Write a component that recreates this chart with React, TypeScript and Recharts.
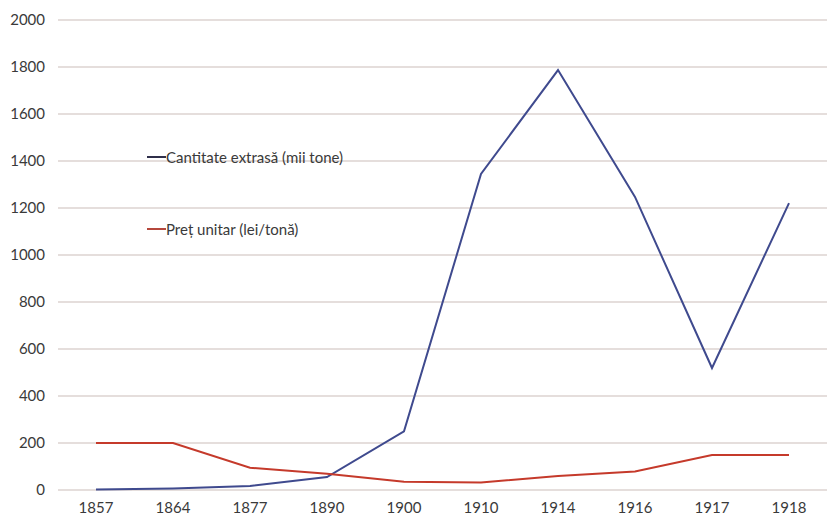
import React from "react";
import { LineChart, Line, XAxis, YAxis, CartesianGrid } from "recharts";

const years = ["1857", "1864", "1877", "1890", "1900", "1910", "1914", "1916", "1917", "1918"];
const cantitate = [2, 6, 17, 55, 250, 1345, 1787, 1247, 519, 1221];
const pret = [200, 200, 95, 69, 35, 32, 60, 79, 149, 149];
const yTicks = [0, 200, 400, 600, 800, 1000, 1200, 1400, 1600, 1800, 2000];

const BLUE = "#3f4a8e";
const RED = "#c53a2b";

const data = years.map((year, i) => ({
  year,
  cantitate: cantitate[i],
  pret: pret[i],
}));

const legendItems = [
  { label: "Cantitate extrasă (mii tone)", color: "#2f2f4a", top: 148 },
  { label: "Preț unitar (lei/tonă)", color: "#b5473c", top: 220 },
];

const App: React.FC = () => {
  return (
    <div style={{ position: "absolute", left: 0, top: 0, width: 827, height: 523, background: "#fff" }}>
      <LineChart
        width={827}
        height={523}
        data={data}
        margin={{ top: 20, right: 0, bottom: 0, left: 0 }}
      >
        <CartesianGrid vertical={false} stroke="#ddd3d1" strokeWidth={1.5} />
        <XAxis
          dataKey="year"
          axisLine={false}
          tickLine={false}
          tickSize={0}
          tickMargin={12}
          height={33}
          interval={0}
          padding={{ left: 38, right: 38 }}
          tick={{ fill: "#3a3a3a", fontSize: 15, fontFamily: "Lato" }}
        />
        <YAxis
          domain={[0, 2000]}
          ticks={yTicks}
          width={58}
          axisLine={false}
          tickLine={false}
          tickSize={0}
          tickMargin={13}
          interval={0}
          tick={{ fill: "#3a3a3a", fontSize: 15, fontFamily: "Lato" }}
        />
        <Line
          type="linear"
          dataKey="cantitate"
          stroke={BLUE}
          strokeWidth={2}
          dot={false}
          isAnimationActive={false}
        />
        <Line
          type="linear"
          dataKey="pret"
          stroke={RED}
          strokeWidth={2}
          dot={false}
          isAnimationActive={false}
        />
      </LineChart>
      {/* legend sits inside the plot, stacked with a gap */}
      {legendItems.map((item) => (
        <div
          key={item.label}
          style={{
            position: "absolute",
            left: 147,
            top: item.top,
            display: "flex",
            alignItems: "center",
            fontFamily: "Lato",
            fontSize: 15,
            color: "#3a3a3a",
            whiteSpace: "nowrap",
          }}
        >
          <span style={{ display: "inline-block", width: 19, height: 2, background: item.color }} />
          <span>{item.label}</span>
        </div>
      ))}
    </div>
  );
};

export default App;
